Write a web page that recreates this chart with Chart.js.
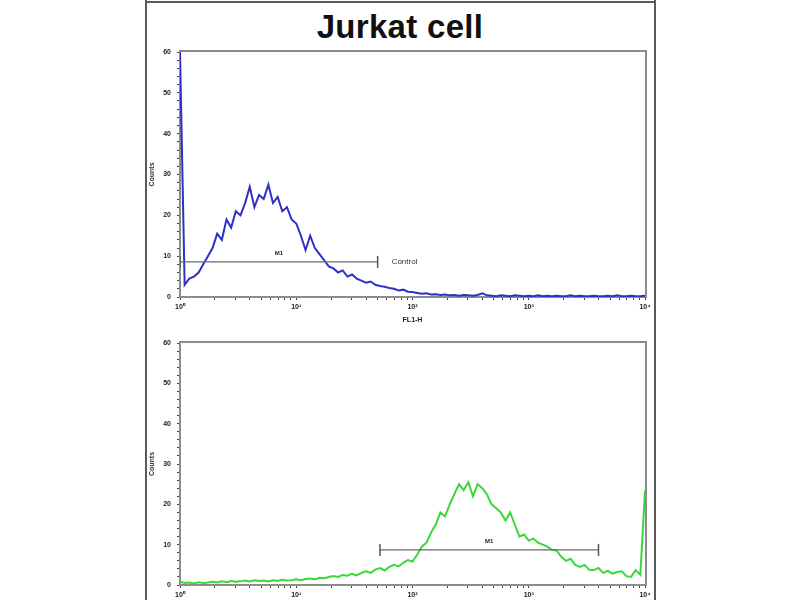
<!DOCTYPE html>
<html>
<head>
<meta charset="utf-8">
<script src="https://cdn.jsdelivr.net/npm/chart.js@4/dist/chart.umd.min.js"></script>
<style>
  html, body { margin: 0; padding: 0; background: #ffffff; }
  #wrap { position: relative; width: 800px; height: 600px; overflow: hidden; background: #fff; }
  .bl { position: absolute; background: #5a5a5a; }
  #title { position: absolute; left: 145px; width: 510px; top: 9px; text-align: center;
           font-family: "Liberation Sans", Arial, sans-serif; font-weight: bold; font-size: 33px;
           line-height: 36px; color: #111; letter-spacing: 0.3px; }
  canvas { position: absolute; }
</style>
</head>
<body>
<div id="wrap">
  <div class="bl" style="left:145px;top:0;width:2px;height:600px;"></div>
  <div class="bl" style="left:654px;top:0;width:2px;height:600px;"></div>
  <div class="bl" style="left:145px;top:1px;width:511px;height:2px;"></div>
  <div id="title">Jurkat cell</div>
  <canvas id="top" width="515" height="284" style="left:140px;top:40px;"></canvas>
  <canvas id="bot" width="515" height="270" style="left:140px;top:330px;"></canvas>
</div>
<script>
// ---- data (x = log10 of FL1-H intensity) ----
const logFL1 = [0.00,0.04,0.08,0.12,0.16,0.20,0.24,0.28,0.32,0.36,
  0.40,0.44,0.48,0.52,0.56,0.60,0.64,0.68,0.72,0.76,
  0.80,0.84,0.88,0.92,0.96,1.00,1.04,1.08,1.12,1.16,
  1.20,1.24,1.28,1.32,1.36,1.40,1.44,1.48,1.52,1.56,
  1.60,1.64,1.68,1.72,1.76,1.80,1.84,1.88,1.92,1.96,
  2.00,2.04,2.08,2.12,2.16,2.20,2.24,2.28,2.32,2.36,
  2.40,2.44,2.48,2.52,2.56,2.60,2.64,2.68,2.72,2.76,
  2.80,2.84,2.88,2.92,2.96,3.00,3.04,3.08,3.12,3.16,
  3.20,3.24,3.28,3.32,3.36,3.40,3.44,3.48,3.52,3.56,
  3.60,3.64,3.68,3.72,3.76,3.80,3.84,3.88,3.92,3.96,4.00];

const controlCounts = [60,3,4.5,5,6,8,10,12,15.5,14,
  19,17,21,20,23,27,22,25,24,27.5,
  23,24.5,21,22,19,18,15,11.5,15,12,
  10.5,9,7.5,7,6,6.5,5,5.5,4.5,4,
  3.5,3.8,3,2.7,2.5,2.2,2,1.6,1.8,1.3,
  1.2,1.0,0.8,0.9,0.6,0.7,0.5,0.6,0.4,0.5,
  0.3,0.5,0.4,0.3,0.5,0.9,0.4,0.3,0.2,0.4,
  0.3,0.2,0.4,0.3,0.2,0.3,0.2,0.4,0.2,0.3,
  0.2,0.3,0.2,0.2,0.4,0.2,0.3,0.2,0.2,0.3,
  0.2,0.2,0.3,0.2,0.4,0.2,0.2,0.3,0.2,0.2,0.3];

const sampleCounts = [0.8,0.5,0.6,0.4,0.7,0.5,0.6,0.8,0.6,0.9,
  0.7,1.0,0.8,0.9,1.1,0.9,1.2,1.0,1.1,0.9,
  1.2,1.0,1.3,1.1,1.2,1.4,1.2,1.5,1.6,1.4,
  1.8,1.7,2.0,2.2,2.0,2.5,2.3,2.8,2.4,3.0,
  3.4,3.0,3.8,4.2,3.6,4.5,5.0,4.6,5.5,6.2,
  5.8,7.5,9.5,10.5,13,15,18,17,20,22.5,
  25,23.5,25.5,22,25,24,22.5,20,19,18,
  16,18,15,12,12.5,11,11.5,10.5,10,9.5,
  8.7,8.5,7,6,6.5,5,4.5,5,3.8,3.7,
  4.2,3,3.5,2.8,3.2,3.4,2.2,2,3.7,2.5,23.5];

const controlGate = [0.00, 1.70];   // log10 limits of marker M1 (control)
const sampleGate  = [1.72, 3.60];   // log10 limits of marker M1 (sample)
const gateLevel = [8.6, 8.7];       // height of marker bars (counts)

const yTickValues = [0,10,20,30,40,50,60];
const xTickLabels = ['10\u2070','10\u00b9','10\u00b2','10\u00b3','10\u2074'];

// ---- helpers ----
const FONT = "'Liberation Sans', Arial, sans-serif";
const toPts = (xs, ys) => xs.map((x, i) => ({x: x, y: ys[i]}));

const framePlugin = {
  id: 'frame',
  beforeDatasetsDraw(chart) {
    const a = chart.chartArea, c = chart.ctx;
    c.save();
    c.strokeStyle = '#8c8c8c';
    c.lineWidth = 2;
    c.strokeRect(a.left, a.top - 1, a.right - a.left + 1, a.bottom - a.top + 1);
    c.restore();
  }
};

const labelPlugin = {
  id: 'gateLabels',
  afterDatasetsDraw(chart, args, opts) {
    const c = chart.ctx, xs = chart.scales.x, ys = chart.scales.y;
    const g = opts.gate, lv = opts.level;
    c.save();
    c.fillStyle = '#222';
    c.font = 'bold 6px ' + FONT;
    c.textAlign = 'center';
    c.textBaseline = 'bottom';
    c.fillText('M1', xs.getPixelForValue((g[0] + g[1]) / 2), ys.getPixelForValue(lv) - 6);
    if (opts.extra) {
      c.font = '8px ' + FONT;
      c.fillStyle = '#333';
      c.textAlign = 'left';
      c.textBaseline = 'middle';
      c.fillText(opts.extra, xs.getPixelForValue(g[1]) + 14, ys.getPixelForValue(lv));
    }
    c.restore();
  }
};

function makeChart(id, counts, color, gate, level, extraText, padTop, xHeight, xTitle) {
  return new Chart(document.getElementById(id), {
    type: 'line',
    data: {
      datasets: [
        { data: toPts(gate, [level, level]), borderColor: '#6a6a6a', borderWidth: 1.3,
          pointStyle: 'line', pointRotation: 90, pointRadius: 6, pointBorderColor: '#555',
          pointBorderWidth: 1.5, order: 0 },
        { data: toPts(logFL1, counts), borderColor: color, borderWidth: 2,
          pointRadius: 0, tension: 0, order: 1 }
      ]
    },
    options: {
      responsive: false, animation: false,
      layout: { padding: { top: padTop, right: 10, left: 0, bottom: 0 } },
      plugins: {
        legend: { display: false }, tooltip: { enabled: false },
        gateLabels: { gate: gate, level: level, extra: extraText }
      },
      scales: {
        x: {
          type: 'linear', min: 0, max: 4,
          afterBuildTicks(s) {
            const t = [];
            for (let n = 0; n < 4; n++) for (let k = 1; k < 10; k++) t.push({ value: n + Math.log10(k) });
            t.push({ value: 4 });
            s.ticks = t;
          },
          afterFit(s) { s.height = xHeight; },
          ticks: {
            autoSkip: false, maxRotation: 0, padding: 3, color: '#222',
            font: { family: FONT, size: 7, weight: 'bold' },
            callback: (v) => Number.isInteger(v) ? xTickLabels[v] : ''
          },
          grid: { drawOnChartArea: false, drawTicks: true, tickLength: 3, tickColor: '#444', tickWidth: 1 },
          border: { display: true, color: '#333', width: 1.5 },
          title: { display: !!xTitle, text: xTitle || '', color: '#222', padding: 0,
                   font: { family: FONT, size: 7, weight: 'bold' } }
        },
        y: {
          type: 'linear', min: 0, max: 60,
          afterBuildTicks(s) {
            const t = [];
            for (let v = 0; v <= 60; v += 2) t.push({ value: v });
            s.ticks = t;
          },
          afterFit(s) { s.width = 40; },
          ticks: {
            autoSkip: false, padding: 6, color: '#222',
            font: { family: FONT, size: 7, weight: 'bold' },
            callback: (v) => yTickValues.includes(v) ? String(v) : ''
          },
          grid: { drawOnChartArea: false, drawTicks: true, tickLength: 3, tickColor: '#444', tickWidth: 1 },
          border: { display: true, color: '#333', width: 1.5 },
          title: { display: true, text: 'Counts', color: '#333', padding: { top: 8, bottom: 0 },
                   font: { family: FONT, size: 7, weight: 'bold' } }
        }
      }
    },
    plugins: [framePlugin, labelPlugin]
  });
}

makeChart('top', controlCounts, '#3030c4', controlGate, gateLevel[0], 'Control', 12, 27, 'FL1-H');
makeChart('bot', sampleCounts, '#3ad83a', sampleGate, gateLevel[1], null, 13, 15, null);
</script>
</body>
</html>
